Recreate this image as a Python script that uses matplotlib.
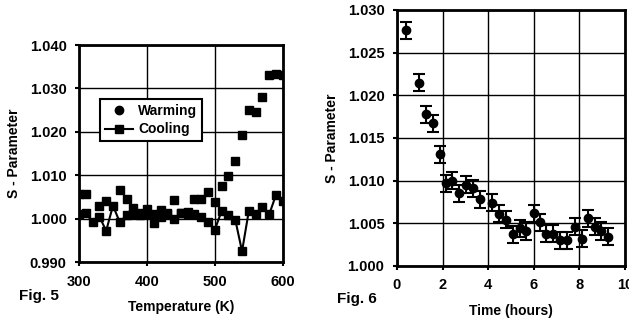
import matplotlib
matplotlib.use("Agg")
import matplotlib.pyplot as plt
from matplotlib.lines import Line2D

plt.rcParams["font.family"] = ["Liberation Sans", "DejaVu Sans"]
plt.rcParams["font.weight"] = "bold"

# ── Fig. 5 : S-parameter vs temperature ──────────────────────────────────────
warm_T = [300, 310, 330, 340, 360, 370, 380, 390, 400, 410, 420, 430, 440, 450,
          460, 470, 480, 490, 500, 510, 520, 530, 540, 550, 560, 570, 580, 590, 600]
warm_S = [1.0057, 1.0058, 1.0030, 1.0040, 1.0065, 1.0045, 1.0025, 1.0012, 1.0022,
          1.0010, 1.0020, 1.0012, 1.0043, 1.0012, 1.0015, 1.0045, 1.0045, 1.0062,
          1.0039, 1.0075, 1.0098, 1.0133, 1.0192, 1.0250, 1.0245, 1.0280, 1.0332,
          1.0333, 1.0332]

cool_T = [300, 310, 320, 330, 340, 350, 360, 370, 380, 390, 400, 410, 420, 430,
          440, 450, 460, 470, 480, 490, 500, 510, 520, 530, 540, 550, 560, 570,
          580, 590, 600]
cool_S = [1.0010, 1.0012, 0.9993, 1.0005, 0.9972, 1.0030, 0.9992, 1.0008, 1.0010,
          1.0008, 1.0010, 0.9990, 1.0005, 1.0010, 1.0000, 1.0012, 1.0010, 1.0010,
          1.0005, 0.9993, 0.9975, 1.0018, 1.0008, 0.9998, 0.9925, 1.0018, 1.0010,
          1.0028, 1.0010, 1.0055, 1.0040]

# ── Fig. 6 : S-parameter vs time ────────────────────────────────────────────
time_h = [0.38, 0.95, 1.29, 1.58, 1.87, 2.14, 2.43, 2.72, 3.05, 3.34, 3.63, 4.19,
          4.48, 4.80, 5.09, 5.39, 5.68, 6.00, 6.27, 6.56, 6.85, 7.14, 7.47, 7.80,
          8.10, 8.39, 8.68, 8.97, 9.27]
time_S = [1.0276, 1.0215, 1.0178, 1.0167, 1.0131, 1.0097, 1.0100, 1.0085, 1.0095,
          1.0091, 1.0078, 1.0074, 1.0061, 1.0054, 1.0037, 1.0044, 1.0041, 1.0062,
          1.0051, 1.0038, 1.0038, 1.0030, 1.0030, 1.0046, 1.0032, 1.0056, 1.0046,
          1.0041, 1.0034]
time_err = 0.001

fig = plt.figure(figsize=(6.29, 3.22), dpi=100)
fig.patch.set_facecolor("white")


def style_axes(ax):
    for s in ax.spines.values():
        s.set_linewidth(2.0)
    ax.grid(True, color="black", linewidth=1.0)
    ax.set_axisbelow(True)
    ax.tick_params(direction="out", length=3, width=1.5, labelsize=10.5, pad=6)
    for lab in ax.get_xticklabels() + ax.get_yticklabels():
        lab.set_fontweight("bold")


# left panel
ax1 = fig.add_axes([0.1256, 0.186, 0.324, 0.674])
ax1.plot(cool_T, cool_S, color="black", linewidth=1.5, marker="s", markersize=6)
ax1.plot(warm_T, warm_S, linestyle="none", color="black", marker="s", markersize=6)
ax1.set_xlim(300, 600)
ax1.set_ylim(0.990, 1.040)
ax1.set_xticks([300, 400, 500, 600])
ax1.set_yticks([0.990, 1.000, 1.010, 1.020, 1.030, 1.040])
ax1.set_yticklabels(["0.990", "1.000", "1.010", "1.020", "1.030", "1.040"])
ax1.set_xlabel("Temperature (K)", fontsize=10, fontweight="bold", labelpad=8)
ax1.set_ylabel("S - Parameter", fontsize=10, fontweight="bold", labelpad=6)
style_axes(ax1)
handles = [Line2D([], [], linestyle="none", marker="o", color="black", markersize=6),
           Line2D([], [], color="black", marker="s", markersize=6, linewidth=1.5)]
leg = ax1.legend(handles, ["Warming", "Cooling"], loc="upper left",
                 bbox_to_anchor=(0.07, 0.785), frameon=True, fancybox=False,
                 edgecolor="black", framealpha=1, fontsize=10, handlelength=2.0,
                 borderpad=0.35, labelspacing=0.35, handletextpad=0.4)
leg.get_frame().set_linewidth(1.5)
for t in leg.get_texts():
    t.set_fontweight("bold")

# right panel
ax2 = fig.add_axes([0.631, 0.174, 0.3625, 0.795])
ax2.errorbar(time_h, time_S, yerr=time_err, fmt="o", color="black", markersize=6,
             elinewidth=1.5, capsize=4, capthick=1.5)
ax2.set_xlim(0, 10)
ax2.set_ylim(1.000, 1.030)
ax2.set_xticks([0, 2, 4, 6, 8, 10])
ax2.set_yticks([1.000, 1.005, 1.010, 1.015, 1.020, 1.025, 1.030])
ax2.set_yticklabels(["1.000", "1.005", "1.010", "1.015", "1.020", "1.025", "1.030"])
ax2.set_xlabel("Time (hours)", fontsize=10, fontweight="bold", labelpad=8)
ax2.set_ylabel("S - Parameter", fontsize=10, fontweight="bold", labelpad=6)
style_axes(ax2)

fig.text(0.03, 0.068, "Fig. 5", fontsize=11, fontweight="bold")
fig.text(0.535, 0.06, "Fig. 6", fontsize=11, fontweight="bold")

fig.savefig("out.png", dpi=100, facecolor="white")
